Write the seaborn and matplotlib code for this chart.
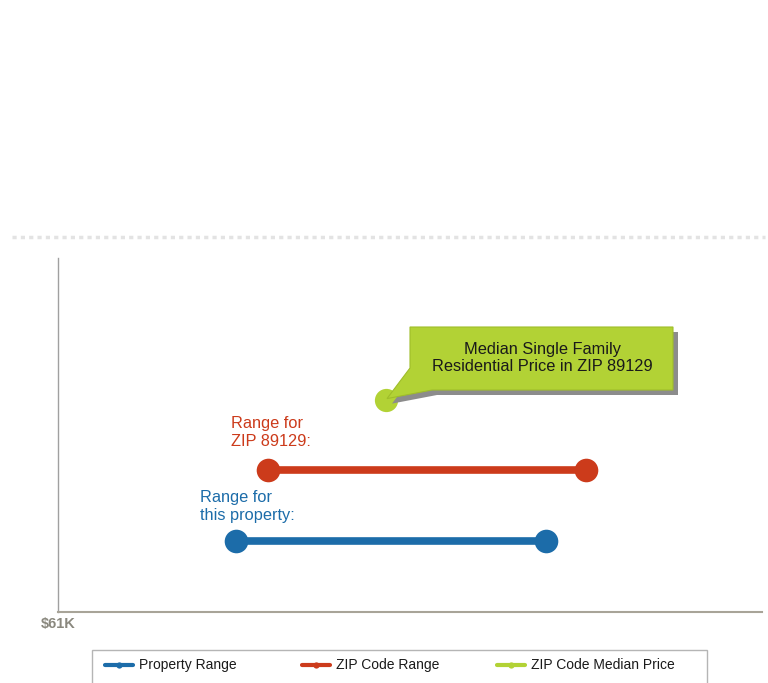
import matplotlib
matplotlib.use('Agg')
import matplotlib.pyplot as plt
import seaborn as sns
import pandas as pd
from matplotlib.patches import Polygon, Rectangle
from matplotlib.lines import Line2D

# values in $K
series = ['Property Range', 'ZIP Code Range', 'ZIP Code Median Price']
property_range = [150, 305]
zip_range = [166, 325]
zip_median = [225]
rows = [1, 2, 3]
x_min_label = '$61K'

blue = '#1c6ca9'
red = '#cc3b1b'
green = '#b2d235'

sns.set_theme(style='white')
plt.rcParams['font.family'] = ['Liberation Sans', 'DejaVu Sans']

fig = plt.figure(figsize=(7.68, 6.83), dpi=100)
ax = fig.add_axes([58 / 768, 1 - 612 / 683, (762 - 58) / 768, (612 - 258) / 683])

df_prop = pd.DataFrame({'x': property_range, 'y': [rows[0]] * 2})
df_zip = pd.DataFrame({'x': zip_range, 'y': [rows[1]] * 2})
df_med = pd.DataFrame({'x': zip_median, 'y': [rows[2]]})

sns.lineplot(data=df_prop, x='x', y='y', color=blue, linewidth=5.5, marker='o',
             markersize=17, markeredgewidth=0, ax=ax)
sns.lineplot(data=df_zip, x='x', y='y', color=red, linewidth=5.5, marker='o',
             markersize=17, markeredgewidth=0, ax=ax)
sns.scatterplot(data=df_med, x='x', y='y', color=green, s=280, linewidth=0, ax=ax, zorder=5)

ax.set_xlim(61, 413)
ax.set_ylim(0, 5)
ax.set_xticks([])
ax.set_yticks([])
ax.set_xlabel('')
ax.set_ylabel('')
for s in ['top', 'right']:
    ax.spines[s].set_visible(False)
ax.spines['left'].set_color('#a0a0a0')
ax.spines['left'].set_linestyle((0, (1, 1)))
ax.spines['left'].set_linewidth(1)
ax.spines['bottom'].set_color('#a8a498')
ax.spines['bottom'].set_linewidth(1.5)

ax.text(0, -0.015, x_min_label, transform=ax.transAxes, ha='center', va='top',
        fontsize=10.5, fontweight='bold', color='#8a887e')

# range labels
ax.annotate('Range for\nZIP 89129:', (zip_range[0], rows[1]), xytext=(-37, 54),
            textcoords='offset pixels', ha='left', va='top', fontsize=11.8, color=red,
            linespacing=1.25)
ax.annotate('Range for\nthis property:', (property_range[0], rows[0]), xytext=(-36, 51),
            textcoords='offset pixels', ha='left', va='top', fontsize=11.8, color=blue,
            linespacing=1.25)

# callout box (pixel coordinates from top-left)
def fp(x, y):
    return (x / 768, 1 - y / 683)

tip = ax.transData.transform((zip_median[0], rows[2]))
tip = fig.transFigure.inverted().transform(tip)
tip = (tip[0] + 1 / 768, tip[1] + 1 / 683)
dx, dy = 5 / 768, -5 / 683
callout = [fp(410, 327), fp(673, 327), fp(673, 390), fp(432, 390), tip, fp(410, 368)]
shadow = [(x + dx, y + dy) for x, y in callout]
fig.patches.append(Polygon(shadow, closed=True, transform=fig.transFigure,
                           facecolor='#8c8c8c', edgecolor='none', zorder=1))
fig.patches.append(Polygon(callout, closed=True, transform=fig.transFigure,
                           facecolor=green, edgecolor='#9fbd2a', linewidth=0.8, zorder=2))
fig.text(542 / 768, 1 - 358 / 683, 'Median Single Family\nResidential Price in ZIP 89129',
         ha='center', va='center', fontsize=11.8, color='#1a1a1a', linespacing=1.15, zorder=3)

# dotted separator line
fig.add_artist(Line2D([12 / 768, 765 / 768], [1 - 237 / 683] * 2, transform=fig.transFigure,
                      color='#e3e3e3', linewidth=2.5, linestyle=(0, (1.2, 1.2)),
                      dash_capstyle='butt'))

# legend box
fig.patches.append(Rectangle(fp(92, 684), (707 - 92) / 768, 34 / 683, transform=fig.transFigure,
                             facecolor='white', edgecolor='#b5b5b5', linewidth=1))
for i, (c, lab) in enumerate(zip((blue, red, green), series)):
    x0 = [105, 302, 497][i]
    fig.add_artist(Line2D([x0 / 768, (x0 + 14) / 768, (x0 + 28) / 768], [1 - 665 / 683] * 3,
                          transform=fig.transFigure, color=c, linewidth=3, marker='o',
                          markersize=4.5, markevery=[1], markeredgewidth=0))
    fig.text((x0 + 34) / 768, 1 - 665 / 683, lab, ha='left', va='center', fontsize=10, color='#1a1a1a')

fig.savefig('out.png', dpi=100)
